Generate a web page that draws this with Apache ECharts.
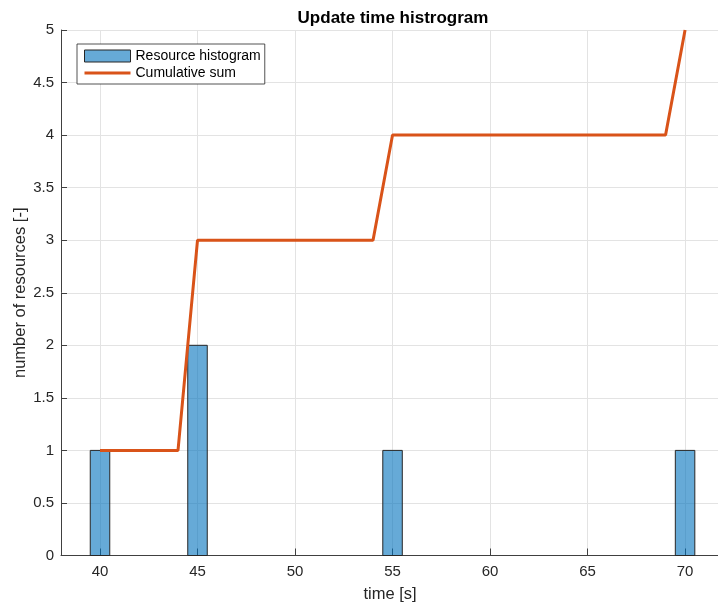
<!DOCTYPE html>
<html>
<head>
<meta charset="utf-8">
<script src="https://cdn.jsdelivr.net/npm/echarts@6/dist/echarts.min.js"></script>
<style>html,body{margin:0;padding:0;background:#fff;}#c{width:718px;height:602px;}</style>
</head>
<body>
<div id="c"></div>
<script>
// Histogram bins (bin centers in seconds) and counts
var binCenters = [40, 45, 55, 70];
var binCounts = [1, 2, 1, 1];
var binWidth = 1;
// Cumulative sum line vertices
var cumTimes = [40, 44, 45, 54, 55, 69, 70];
var cumValues = [1, 1, 3, 3, 4, 4, 5];

var FONT = '"Liberation Sans", Arial, Helvetica, sans-serif';
var TXT = '#262626';

var barData = binCenters.map(function (c, i) { return [c, binCounts[i]]; });
var lineData = cumTimes.map(function (t, i) { return [t, cumValues[i]]; });

var chart = echarts.init(document.getElementById('c'), null, {renderer: 'canvas'});
chart.setOption({
  animation: false,
  backgroundColor: '#fff',
  textStyle: {fontFamily: FONT},
  title: {
    text: 'Update time histrogram',
    left: 393, top: 10, textAlign: 'center', padding: 0,
    textStyle: {fontFamily: FONT, fontSize: 17, fontWeight: 'bold', color: '#000'}
  },
  grid: {left: 61, top: 30, right: -1, bottom: 46.5, containLabel: false, outerBoundsMode: 'none'},
  legend: {
    orient: 'vertical', left: 77, top: 44,
    padding: [5, 4, 4, 6], itemGap: 3, itemWidth: 46, itemHeight: 12, itemTextGap: 5,
    backgroundColor: '#fff', borderColor: '#262626', borderWidth: 0.8, borderRadius: 0,
    textStyle: {fontFamily: FONT, fontSize: 14, color: '#000'},
    data: [
      {name: 'Resource histogram', icon: 'rect',
       itemStyle: {color: 'rgba(0,114,189,0.6)', borderColor: '#262626', borderWidth: 1}},
      {name: 'Cumulative sum',
       itemStyle: {color: 'rgba(0,0,0,0)', borderColor: 'rgba(0,0,0,0)', borderWidth: 0, opacity: 0},
       lineStyle: {color: '#D95319', width: 3}}
    ]
  },
  xAxis: {
    type: 'value', min: 38, max: 71.74, splitNumber: 6,
    name: 'time [s]', nameLocation: 'middle', nameGap: 30, nameMoveOverlap: false,
    nameTextStyle: {fontFamily: FONT, fontSize: 16.5, color: TXT},
    axisLine: {show: true, onZero: false, lineStyle: {color: '#404040', width: 1}},
    axisTick: {show: true, inside: true, length: 7, lineStyle: {color: '#404040'}},
    axisLabel: {fontFamily: FONT, fontSize: 15, color: TXT, margin: 9, showMinLabel: false, showMaxLabel: false},
    splitLine: {show: true, lineStyle: {color: '#e3e3e3', width: 1}}
  },
  yAxis: {
    type: 'value', min: 0, max: 5, interval: 0.5,
    name: 'number of resources [-]', nameLocation: 'middle', nameGap: 32, nameMoveOverlap: false,
    nameTextStyle: {fontFamily: FONT, fontSize: 16.5, color: TXT},
    axisLine: {show: true, lineStyle: {color: '#404040', width: 1}},
    axisTick: {show: true, inside: true, length: 6, lineStyle: {color: '#404040'}},
    axisLabel: {fontFamily: FONT, fontSize: 15, color: TXT, margin: 7},
    splitLine: {show: true, lineStyle: {color: '#e3e3e3', width: 1}}
  },
  series: [
    {
      name: 'Resource histogram',
      type: 'custom',
      z: 2,
      itemStyle: {color: 'rgba(0,114,189,0.6)', borderColor: '#262626', borderWidth: 1},
      renderItem: function (params, api) {
        var c = api.value(0), v = api.value(1);
        var p0 = api.coord([c - binWidth / 2, v]);
        var p1 = api.coord([c + binWidth / 2, 0]);
        return {
          type: 'rect',
          shape: {x: p0[0], y: p0[1], width: p1[0] - p0[0], height: p1[1] - p0[1]},
          style: {fill: 'rgba(0,114,189,0.6)', stroke: '#262626', lineWidth: 1}
        };
      },
      encode: {x: 0, y: 1},
      data: barData
    },
    {
      name: 'Cumulative sum',
      type: 'line',
      z: 3,
      symbol: 'none',
      showSymbol: false,
      itemStyle: {color: '#D95319'},
      lineStyle: {color: '#D95319', width: 3},
      data: lineData
    }
  ]
});
</script>
</body>
</html>
